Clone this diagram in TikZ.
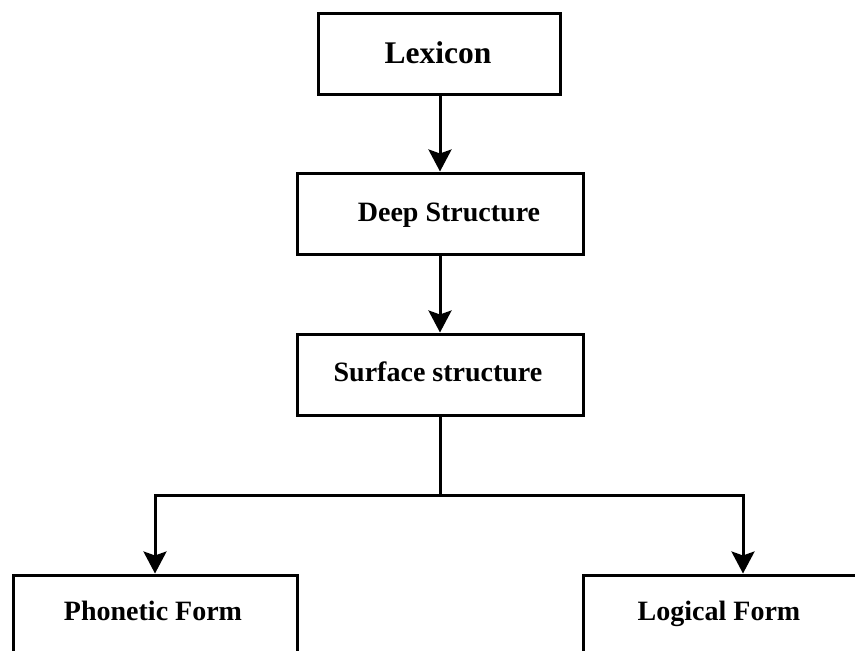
\documentclass[tikz,border=0pt]{standalone}
\usepackage{fontspec}
\setmainfont{Liberation Serif}
\usetikzlibrary{arrows.meta}
\begin{document}
\begin{tikzpicture}[x=1pt,y=-1pt,
  box/.style={draw=black, line width=3pt, rectangle, fill=white, inner sep=0pt},
  lbl/.style={font=\bfseries\fontsize{28}{30}\selectfont, inner sep=0pt, anchor=base},
  flow/.style={line width=3pt, -{Stealth[length=22pt,width=23pt,inset=4pt]}}]
  \clip (0,0) rectangle (855,651);
  \fill[white] (0,0) rectangle (855,651);

  % boxes
  \node[box, minimum width=242pt, minimum height=81pt] (lex)  at (439,53.5) {};
  \node[box, minimum width=286pt, minimum height=81pt] (deep) at (440,213.5) {};
  \node[box, minimum width=286pt, minimum height=81pt] (surf) at (440,374.5) {};
  \node[box, minimum width=284pt, minimum height=100pt] (pf) at (155,625) {};
  \node[box, minimum width=284pt, minimum height=100pt] (lf) at (725,625) {};

  % labels, placed on their baselines
  \node[lbl, font=\bfseries\fontsize{31.5}{33}\selectfont] (lexT) at (438,63) {Lexicon};
  \node[lbl] (deepT) at (449,221) {Deep Structure};
  \node[lbl] (surfT) at (438,381) {Surface structure};
  \node[lbl] (pfT)   at (153,620) {Phonetic Form};
  \node[lbl] (lfT)   at (719,620) {Logical Form};

  % connectors
  \coordinate (split) at (440,495);
  \draw[flow] (lex.south -| 440,0) -- (deep.north -| 440,0);
  \draw[flow] (deep.south) -- (surf.north);
  \draw[line width=3pt] (surf.south) -- (split);
  \draw[flow] (split) -| (pf.north);
  \draw[flow] (split) -| (lf.north -| 743,0);
\end{tikzpicture}
\end{document}
